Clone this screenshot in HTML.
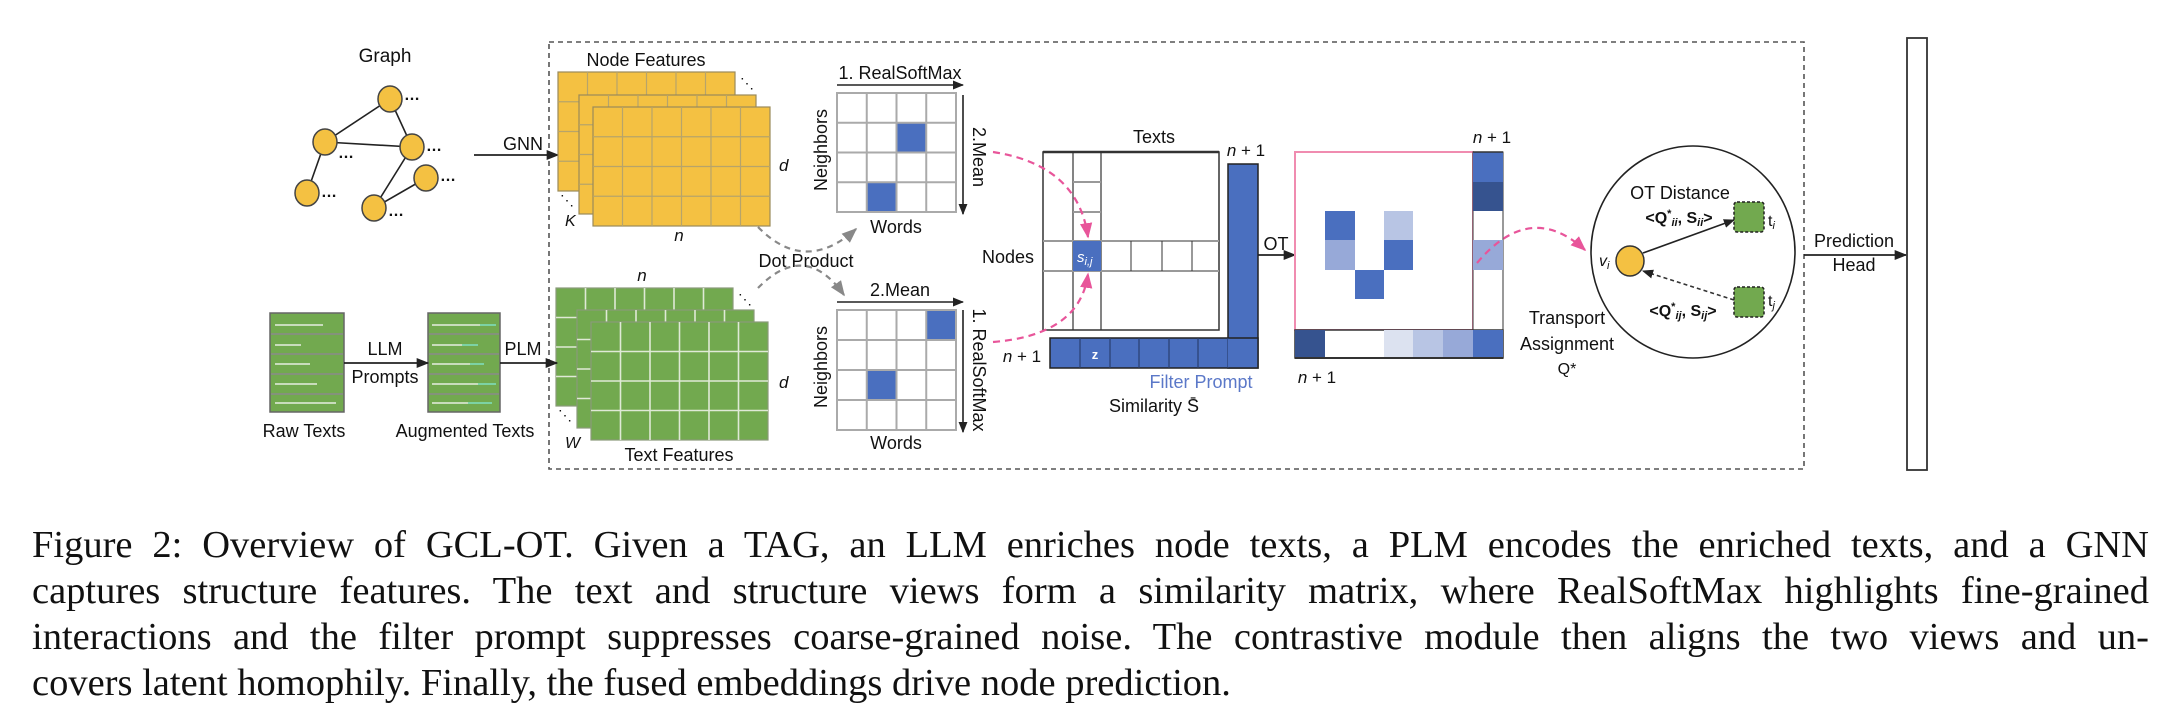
<!DOCTYPE html>
<html><head><meta charset="utf-8">
<style>
html,body{margin:0;padding:0;background:#fff;}
body{width:2178px;height:711px;position:relative;overflow:hidden;}
svg{position:absolute;left:0;top:0;}
svg text{font-family:"Liberation Sans",Arial,sans-serif;fill:#111;}
.cap{position:absolute;left:32px;width:2117px;font-family:"Liberation Serif","Times New Roman",serif;font-size:38.5px;color:#111;text-align:justify;text-align-last:justify;white-space:nowrap;line-height:46px;}
</style></head><body>
<svg width="2178" height="480" viewBox="0 0 2178 480" xmlns="http://www.w3.org/2000/svg">
<defs>
  <g id="ylayer">
    <rect x="0" y="0" width="177" height="119" fill="#F4C142" stroke="#9a8a5a" stroke-width="1.2"/>
    <path d="M29.5 0V119M59 0V119M88.5 0V119M118 0V119M147.5 0V119M0 29.75H177M0 59.5H177M0 89.25H177" stroke="#b7a46a" stroke-width="1.2"/>
  </g>
  <g id="glayer">
    <rect x="0" y="0" width="177" height="118" fill="#72A94F" stroke="#8a9a7a" stroke-width="1.2"/>
    <path d="M29.5 0V118M59 0V118M88.5 0V118M118 0V118M147.5 0V118M0 29.5H177M0 59H177M0 88.5H177" stroke="#dfe9d6" stroke-width="1.6"/>
  </g>
  <marker id="ah" viewBox="0 0 10 10" refX="9" refY="5" markerWidth="7" markerHeight="7" orient="auto"><path d="M0 1L10 5L0 9z" fill="#222"/></marker>
  <marker id="ahp" viewBox="0 0 10 10" refX="9" refY="5" markerWidth="7" markerHeight="7" orient="auto"><path d="M0 1L10 5L0 9z" fill="#E8559A"/></marker>
  <marker id="ahg" viewBox="0 0 10 10" refX="9" refY="5" markerWidth="7" markerHeight="7" orient="auto"><path d="M0 1L10 5L0 9z" fill="#888"/></marker>
</defs>

<!-- dashed frame -->
<rect x="549" y="42" width="1255" height="427" fill="none" stroke="#555" stroke-width="1.6" stroke-dasharray="5,4"/>

<!-- Graph -->
<text x="385" y="62" font-size="19" text-anchor="middle">Graph</text>
<g stroke="#222" stroke-width="1.6">
<line x1="390" y1="99" x2="325" y2="142"/><line x1="390" y1="99" x2="412" y2="147"/>
<line x1="325" y1="142" x2="412" y2="147"/><line x1="325" y1="142" x2="307" y2="193"/>
<line x1="412" y1="147" x2="374" y2="208"/><line x1="426" y1="178" x2="374" y2="208"/>
</g>
<g fill="#F4C142" stroke="#444" stroke-width="1.5">
<ellipse cx="390" cy="99" rx="12" ry="13"/><ellipse cx="325" cy="142" rx="12" ry="13"/>
<ellipse cx="412" cy="147" rx="12" ry="13"/><ellipse cx="426" cy="178" rx="12" ry="13"/>
<ellipse cx="307" cy="193" rx="12" ry="13"/><ellipse cx="374" cy="208" rx="12" ry="13"/>
</g>
<g font-size="16" font-weight="bold">
<text x="404" y="100">…</text><text x="338" y="158">…</text><text x="426" y="151">…</text>
<text x="440" y="181">…</text><text x="321" y="197">…</text><text x="388" y="216">…</text>
</g>
<line x1="474" y1="155" x2="558" y2="155" stroke="#222" stroke-width="1.8" marker-end="url(#ah)"/>
<text x="523" y="150" font-size="18" text-anchor="middle">GNN</text>

<!-- Node features -->
<text x="646" y="66" font-size="18" text-anchor="middle">Node Features</text>
<use href="#ylayer" x="558" y="72"/>
<use href="#ylayer" x="579" y="95"/>
<use href="#ylayer" x="593" y="107"/>
<text x="740" y="88" font-size="14">⋱</text>
<text x="560" y="205" font-size="14">⋱</text>
<text x="565" y="226" font-size="16" font-style="italic" font-family="Liberation Serif">K</text>
<text x="779" y="171" font-size="17" font-style="italic" font-family="Liberation Serif">d</text>
<text x="679" y="241" font-size="17" font-style="italic" font-family="Liberation Serif" text-anchor="middle">n</text>

<!-- Text features -->
<text x="642" y="281" font-size="17" font-style="italic" font-family="Liberation Serif" text-anchor="middle">n</text>
<use href="#glayer" x="556" y="288"/>
<use href="#glayer" x="577" y="310"/>
<use href="#glayer" x="591" y="322"/>
<text x="738" y="304" font-size="14">⋱</text>
<text x="558" y="420" font-size="14">⋱</text>
<text x="565" y="448" font-size="16" font-style="italic" font-family="Liberation Serif">W</text>
<text x="779" y="388" font-size="17" font-style="italic" font-family="Liberation Serif">d</text>
<text x="679" y="461" font-size="18" text-anchor="middle">Text Features</text>

<!-- docs -->
<g>
<rect x="270" y="313" width="74" height="99" fill="#72A94F" stroke="#666" stroke-width="1.5"/>
<path d="M271 334H343M271 354H343M271 374H343M271 394H343" stroke="#8a8a8a" stroke-width="1.5"/>
<path d="M275 325H323M275 345H301M275 364H310M275 384H317M275 403H336" stroke="#e6eee0" stroke-width="1.6"/>
<rect x="428" y="313" width="72" height="99" fill="#72A94F" stroke="#666" stroke-width="1.5"/>
<path d="M429 334H499M429 354H499M429 374H499M429 394H499" stroke="#8a8a8a" stroke-width="1.5"/>
<path d="M432 325H480M432 345H462M432 364H470M432 384H478M432 403H468" stroke="#e6eee0" stroke-width="1.6"/>
<path d="M480 325H496M462 345H478M470 364H484M478 384H496M468 403H492" stroke="#7fe0c0" stroke-width="1.6"/>
</g>
<line x1="344" y1="363" x2="428" y2="363" stroke="#222" stroke-width="1.8" marker-end="url(#ah)"/>
<text x="385" y="355" font-size="18" text-anchor="middle">LLM</text>
<text x="385" y="383" font-size="18" text-anchor="middle">Prompts</text>
<line x1="500" y1="363" x2="557" y2="363" stroke="#222" stroke-width="1.8" marker-end="url(#ah)"/>
<text x="523" y="355" font-size="18" text-anchor="middle">PLM</text>
<text x="304" y="437" font-size="18" text-anchor="middle">Raw Texts</text>
<text x="465" y="437" font-size="18" text-anchor="middle">Augmented Texts</text>

<!-- top matrix -->
<rect x="837" y="93" width="119" height="119" fill="#fff"/>
<rect x="896.5" y="122.75" width="29.75" height="29.75" fill="#4A6FBF"/>
<rect x="866.75" y="182.25" width="29.75" height="29.75" fill="#4A6FBF"/>
<path d="M837 93H956V212H837ZM866.75 93V212M896.5 93V212M926.25 93V212M837 122.75H956M837 152.5H956M837 182.25H956" fill="none" stroke="#aaa" stroke-width="2"/>
<line x1="837" y1="85" x2="963" y2="85" stroke="#222" stroke-width="1.6" marker-end="url(#ah)"/>
<text x="900" y="79" font-size="18" text-anchor="middle">1. RealSoftMax</text>
<line x1="963" y1="95" x2="963" y2="214" stroke="#222" stroke-width="1.6" marker-end="url(#ah)"/>
<text transform="translate(973,157) rotate(90)" font-size="18" text-anchor="middle">2.Mean</text>
<text transform="translate(827,150) rotate(-90)" font-size="18" text-anchor="middle">Neighbors</text>
<text x="896" y="233" font-size="18" text-anchor="middle">Words</text>

<!-- bottom matrix -->
<rect x="837" y="310" width="119" height="120" fill="#fff"/>
<rect x="926.25" y="310" width="29.75" height="30" fill="#4A6FBF"/>
<rect x="866.75" y="370" width="29.75" height="30" fill="#4A6FBF"/>
<path d="M837 310H956V430H837ZM866.75 310V430M896.5 310V430M926.25 310V430M837 340H956M837 370H956M837 400H956" fill="none" stroke="#aaa" stroke-width="2"/>
<line x1="837" y1="302" x2="963" y2="302" stroke="#222" stroke-width="1.6" marker-end="url(#ah)"/>
<text x="900" y="296" font-size="18" text-anchor="middle">2.Mean</text>
<line x1="963" y1="310" x2="963" y2="432" stroke="#222" stroke-width="1.6" marker-end="url(#ah)"/>
<text transform="translate(973,370) rotate(90)" font-size="18" text-anchor="middle">1. RealSoftMax</text>
<text transform="translate(827,367) rotate(-90)" font-size="18" text-anchor="middle">Neighbors</text>
<text x="896" y="449" font-size="18" text-anchor="middle">Words</text>

<!-- gray dot product arcs -->
<path d="M758 227 Q805 275 856 229" fill="none" stroke="#888" stroke-width="2.2" stroke-dasharray="6,5" marker-end="url(#ahg)"/>
<path d="M758 288 Q805 240 844 295" fill="none" stroke="#888" stroke-width="2.2" stroke-dasharray="6,5" marker-end="url(#ahg)"/>
<text x="806" y="267" font-size="18" text-anchor="middle">Dot Product</text>

<!-- similarity matrix -->
<rect x="1043" y="152" width="176" height="178" fill="#fff" stroke="#333" stroke-width="1.5"/>
<line x1="1043" y1="152" x2="1219" y2="152" stroke="#333" stroke-width="2.5"/>
<path d="M1073 152V330M1101 152V330" stroke="#333" stroke-width="1.2"/>
<path d="M1073 182H1101M1073 212H1101" stroke="#999" stroke-width="2"/>
<path d="M1043 241H1219M1043 271H1219" stroke="#999" stroke-width="2"/>
<path d="M1131 241V271M1162 241V271M1192 241V271" stroke="#333" stroke-width="1"/>
<rect x="1073" y="241" width="28" height="30" fill="#4A6FBF"/>
<text x="1077" y="262" font-size="15" font-style="italic" font-family="Liberation Serif" style="fill:#fff">s<tspan font-size="11" dy="3">i,j</tspan></text>
<text x="1154" y="143" font-size="18" text-anchor="middle">Texts</text>
<text x="1008" y="263" font-size="18" text-anchor="middle">Nodes</text>
<!-- filter prompt L -->
<rect x="1228" y="164" width="30" height="204" fill="#4A6FBF" stroke="#222" stroke-width="1.5"/>
<rect x="1050" y="338" width="208" height="30" fill="#4A6FBF" stroke="#222" stroke-width="1.5"/>
<path d="M1080 338V368M1110 338V368M1139 338V368M1169 338V368M1198 338V368M1228 338V368" stroke="#2a3f70" stroke-width="1.2"/>
<rect x="1228" y="339" width="29" height="28" fill="#4A6FBF"/>
<text x="1095" y="359" font-size="13" font-weight="bold" text-anchor="middle" style="fill:#fff">z</text>
<text x="1246" y="156" font-size="17" font-family="Liberation Serif" text-anchor="middle"><tspan font-style="italic">n</tspan> + 1</text>
<text x="1022" y="362" font-size="17" font-family="Liberation Serif" text-anchor="middle"><tspan font-style="italic">n</tspan> + 1</text>
<text x="1201" y="388" font-size="18" text-anchor="middle" style="fill:#5b78c8">Filter Prompt</text>
<text x="1154" y="412" font-size="18" text-anchor="middle">Similarity S̄</text>

<!-- pink arcs to s_ij -->
<path d="M993 152 Q1078 165 1088 237" fill="none" stroke="#E8559A" stroke-width="2.2" stroke-dasharray="7,5" marker-end="url(#ahp)"/>
<path d="M993 342 Q1080 335 1088 274" fill="none" stroke="#E8559A" stroke-width="2.2" stroke-dasharray="7,5" marker-end="url(#ahp)"/>

<!-- OT arrow -->
<line x1="1258" y1="255" x2="1295" y2="255" stroke="#222" stroke-width="1.8" marker-end="url(#ah)"/>
<text x="1276" y="250" font-size="18" text-anchor="middle">OT</text>

<!-- transport matrix -->
<rect x="1295" y="152" width="178" height="178" fill="#fff" stroke="#F08CB0" stroke-width="2"/>
<rect x="1325" y="211" width="30" height="29" fill="#4A6FBF"/>
<rect x="1325" y="240" width="30" height="30" fill="#97A9D8"/>
<rect x="1384" y="211" width="29" height="29" fill="#B8C5E4"/>
<rect x="1384" y="240" width="29" height="30" fill="#4A6FBF"/>
<rect x="1355" y="270" width="29" height="29" fill="#4A6FBF"/>
<!-- right column -->
<rect x="1473" y="152" width="30" height="206" fill="#fff" stroke="#333" stroke-width="1"/>
<rect x="1473" y="152" width="30" height="30" fill="#4A6FBF"/>
<rect x="1473" y="182" width="30" height="29" fill="#36538F"/>
<rect x="1473" y="240" width="30" height="30" fill="#97A9D8"/>
<!-- bottom row -->
<rect x="1295" y="330" width="208" height="28" fill="#fff" stroke="#333" stroke-width="1.5"/>
<rect x="1295" y="330" width="30" height="28" fill="#36538F"/>
<rect x="1384" y="330" width="29" height="28" fill="#DCE2F0"/>
<rect x="1413" y="330" width="30" height="28" fill="#B8C5E4"/>
<rect x="1443" y="330" width="30" height="28" fill="#97A9D8"/>
<rect x="1473" y="330" width="30" height="28" fill="#4A6FBF"/>
<line x1="1295" y1="358" x2="1503" y2="358" stroke="#333" stroke-width="2"/>
<line x1="1473" y1="152" x2="1503" y2="152" stroke="#333" stroke-width="1.5"/>
<text x="1492" y="143" font-size="17" font-family="Liberation Serif" text-anchor="middle"><tspan font-style="italic">n</tspan> + 1</text>
<text x="1317" y="383" font-size="17" font-family="Liberation Serif" text-anchor="middle"><tspan font-style="italic">n</tspan> + 1</text>
<text x="1567" y="324" font-size="18" text-anchor="middle">Transport</text>
<text x="1567" y="350" font-size="18" text-anchor="middle">Assignment</text>
<text x="1567" y="374" font-size="16" font-family="Liberation Serif" text-anchor="middle">Q*</text>
<path d="M1477 263 Q1530 200 1585 250" fill="none" stroke="#E8559A" stroke-width="2.2" stroke-dasharray="7,5" marker-end="url(#ahp)"/>

<!-- OT distance ellipse -->
<ellipse cx="1693" cy="252" rx="102" ry="106" fill="none" stroke="#222" stroke-width="1.6"/>
<text x="1680" y="199" font-size="18" text-anchor="middle">OT Distance</text>
<text x="1679" y="223" font-size="16" font-family="Liberation Serif" font-weight="bold" text-anchor="middle">&lt;Q<tspan font-size="11" dy="-6">*</tspan><tspan font-size="11" dy="9" font-style="italic">ii</tspan><tspan dy="-3">, S</tspan><tspan font-size="11" dy="3" font-style="italic">ii</tspan><tspan dy="-3">&gt;</tspan></text>
<text x="1683" y="316" font-size="16" font-family="Liberation Serif" font-weight="bold" text-anchor="middle">&lt;Q<tspan font-size="11" dy="-6">*</tspan><tspan font-size="11" dy="9" font-style="italic">ij</tspan><tspan dy="-3">, S</tspan><tspan font-size="11" dy="3" font-style="italic">ij</tspan><tspan dy="-3">&gt;</tspan></text>
<line x1="1643" y1="253" x2="1734" y2="220" stroke="#222" stroke-width="1.6" marker-end="url(#ah)"/>
<line x1="1734" y1="300" x2="1643" y2="271" stroke="#333" stroke-width="1.6" stroke-dasharray="4,3" marker-end="url(#ah)"/>
<rect x="1734" y="202" width="30" height="30" rx="3" fill="#72A94F" stroke="#222" stroke-width="1.5" stroke-dasharray="3,2"/>
<rect x="1734" y="287" width="30" height="30" rx="3" fill="#72A94F" stroke="#222" stroke-width="1.5" stroke-dasharray="3,2"/>
<ellipse cx="1630" cy="261" rx="14" ry="15" fill="#F4C142" stroke="#333" stroke-width="1.5"/>
<text x="1599" y="266" font-size="16" font-style="italic" font-family="Liberation Serif">v<tspan font-size="11" dy="3">i</tspan></text>
<text x="1768" y="226" font-size="16" font-family="Liberation Serif">t<tspan font-size="11" dy="3" font-style="italic">i</tspan></text>
<text x="1768" y="306" font-size="16" font-family="Liberation Serif">t<tspan font-size="11" dy="3" font-style="italic">j</tspan></text>

<!-- prediction head -->
<line x1="1804" y1="255" x2="1906" y2="255" stroke="#222" stroke-width="1.8" marker-end="url(#ah)"/>
<text x="1854" y="247" font-size="18" text-anchor="middle">Prediction</text>
<text x="1854" y="271" font-size="18" text-anchor="middle">Head</text>
<text x="1911" y="262" font-size="18">Y</text>
<rect x="1907" y="38" width="20" height="432" fill="#fff" stroke="#333" stroke-width="1.8"/>
</svg>

<div class="cap" style="top:522px">Figure 2: Overview of GCL-OT. Given a TAG, an LLM enriches node texts, a PLM encodes the enriched texts, and a GNN</div>
<div class="cap" style="top:568px">captures structure features. The text and structure views form a similarity matrix, where RealSoftMax highlights fine-grained</div>
<div class="cap" style="top:614px">interactions and the filter prompt suppresses coarse-grained noise. The contrastive module then aligns the two views and un-</div>
<div class="cap" style="top:660px;text-align-last:left">covers latent homophily. Finally, the fused embeddings drive node prediction.</div>
</body></html>
